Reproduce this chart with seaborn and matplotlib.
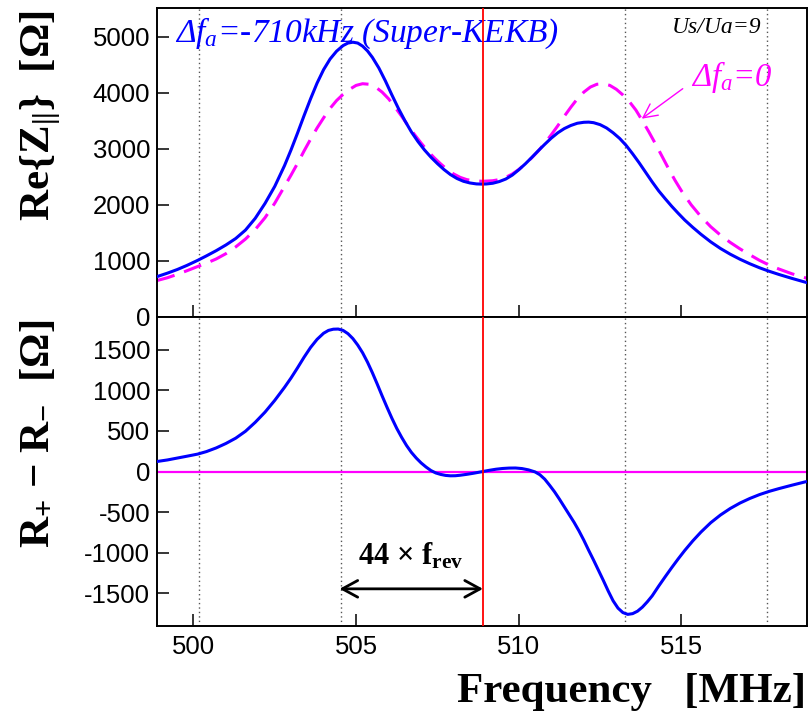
import matplotlib
matplotlib.use("Agg")
import matplotlib.pyplot as plt
import seaborn as sns
import pandas as pd

# ---- data -----------------------------------------------------------------
# Re{Z||} for detuning -710 kHz (Super-KEKB)
freq_det = [498.88, 499.2, 499.5, 499.8, 500.13, 500.4, 500.7, 501.0, 501.3, 501.6,
            501.9, 502.2, 502.5, 502.8, 503.0, 503.2, 503.4, 503.6, 503.8, 504.0,
            504.2, 504.4, 504.6, 504.75, 504.9, 505.05, 505.2, 505.35, 505.5, 505.7,
            505.9, 506.1, 506.3, 506.5, 506.7, 506.9, 507.1, 507.3, 507.5, 507.7,
            507.9, 508.1, 508.3, 508.5, 508.7, 508.85, 509.0, 509.2, 509.4, 509.6,
            509.8, 510.0, 510.2, 510.4, 510.6, 510.8, 511.0, 511.2, 511.4, 511.6,
            511.8, 512.0, 512.15, 512.3, 512.5, 512.7, 512.9, 513.1, 513.3, 513.5,
            513.7, 513.9, 514.1, 514.3, 514.5, 514.7, 514.9, 515.1, 515.35, 515.6,
            515.9, 516.2, 516.5, 516.8, 517.1, 517.4, 517.7, 518.0, 518.4, 518.86]
rez_det = [720, 782, 846, 920, 1010, 1090, 1183, 1285, 1400, 1550,
           1760, 2025, 2330, 2700, 2980, 3280, 3590, 3890, 4170, 4410,
           4600, 4740, 4840, 4885, 4900, 4885, 4830, 4745, 4630, 4440,
           4210, 3960, 3720, 3500, 3300, 3130, 2980, 2850, 2735, 2630,
           2540, 2470, 2420, 2390, 2373, 2370, 2372, 2385, 2415, 2460,
           2530, 2625, 2730, 2845, 2965, 3080, 3190, 3285, 3360, 3415,
           3455, 3472, 3475, 3465, 3430, 3370, 3285, 3185, 3060, 2910,
           2750, 2580, 2410, 2250, 2110, 1975, 1850, 1730, 1598, 1475,
           1340, 1222, 1120, 1030, 950, 878, 815, 758, 688, 612]

# Re{Z||} for zero detuning
freq_zero = [498.88, 499.2, 499.5, 499.8, 500.13, 500.4, 500.7, 501.0, 501.3, 501.6,
             501.9, 502.2, 502.5, 502.8, 503.0, 503.2, 503.4, 503.6, 503.8, 504.0,
             504.2, 504.4, 504.6, 504.8, 505.0, 505.2, 505.4, 505.6, 505.8, 506.0,
             506.2, 506.4, 506.6, 506.8, 507.0, 507.2, 507.4, 507.6, 507.8, 508.0,
             508.2, 508.4, 508.6, 508.9, 509.2, 509.4, 509.6, 509.8, 510.0, 510.2,
             510.4, 510.6, 510.8, 511.0, 511.2, 511.4, 511.6, 511.8, 512.0, 512.2,
             512.4, 512.6, 512.8, 513.0, 513.2, 513.4, 513.6, 513.8, 514.0, 514.2,
             514.4, 514.6, 514.8, 515.0, 515.3, 515.6, 515.9, 516.2, 516.5, 516.8,
             517.1, 517.4, 517.7, 518.0, 518.4, 518.86]
rez_zero = [650, 700, 760, 825, 900, 960, 1035, 1130, 1250, 1390,
            1560, 1770, 2030, 2330, 2530, 2740, 2960, 3170, 3370, 3550,
            3720, 3860, 3970, 4060, 4130, 4160, 4150, 4100, 4010, 3890,
            3740, 3580, 3410, 3250, 3100, 2960, 2840, 2730, 2630, 2550,
            2490, 2450, 2430, 2420, 2430, 2450, 2490, 2550, 2630, 2730,
            2840, 2960, 3100, 3250, 3410, 3580, 3740, 3890, 4010, 4100,
            4150, 4160, 4130, 4060, 3960, 3840, 3690, 3500, 3300, 3090,
            2870, 2650, 2440, 2250, 2000, 1790, 1610, 1460, 1330, 1215,
            1110, 1010, 925, 855, 770, 690]

# R+ - R- for detuning -710 kHz
freq_diff = [498.88, 499.2, 499.5, 499.8, 500.13, 500.4, 500.7, 501.0, 501.3, 501.6,
             501.9, 502.2, 502.5, 502.8, 503.0, 503.2, 503.4, 503.6, 503.8, 504.0,
             504.15, 504.3, 504.45, 504.6, 504.75, 504.9, 505.05, 505.2, 505.35, 505.5,
             505.65, 505.8, 505.95, 506.1, 506.25, 506.4, 506.55, 506.7, 506.85, 507.0,
             507.15, 507.3, 507.45, 507.6, 507.75, 507.9, 508.05, 508.2, 508.4, 508.6,
             508.9, 509.1, 509.3, 509.5, 509.7, 509.9, 510.1, 510.3, 510.5, 510.65,
             510.8, 510.95, 511.1, 511.25, 511.4, 511.55, 511.7, 511.85, 512.0, 512.15,
             512.3, 512.45, 512.6, 512.75, 512.9, 513.05, 513.2, 513.35, 513.5, 513.65,
             513.8, 513.95, 514.1, 514.3, 514.5, 514.7, 514.9, 515.1, 515.35, 515.6,
             515.9, 516.2, 516.5, 516.8, 517.1, 517.4, 517.7, 518.0, 518.4, 518.83]
rdiff = [123, 142, 165, 188, 214, 245, 290, 345, 410, 495,
         605, 730, 875, 1035, 1150, 1275, 1405, 1525, 1625, 1700,
         1735, 1750, 1752, 1735, 1695, 1635, 1555, 1460, 1345, 1215,
         1075, 930, 790, 655, 530, 420, 320, 235, 165, 105,
         55, 12, -18, -36, -48, -53, -52, -46, -35, -22,
         0, 15, 28, 37, 42, 43, 36, 20, -5, -40,
         -95, -170, -250, -340, -435, -530, -625, -730, -845, -970,
         -1090, -1215, -1340, -1470, -1590, -1680, -1735, -1757, -1748, -1718,
         -1668, -1603, -1530, -1410, -1295, -1183, -1075, -972, -853, -745,
         -630, -535, -455, -388, -332, -284, -244, -210, -168, -125]

# RF frequency and its +-44 f_rev neighbours
f_rf = 508.9
f_sidebands = [500.16, 504.53, 513.27, 517.64]

x_ticks = [500, 505, 510, 515]
top_yticks = [0, 1000, 2000, 3000, 4000, 5000]
bot_yticks = [-1500, -1000, -500, 0, 500, 1000, 1500]

# ---- style ----------------------------------------------------------------
sns.set_theme(style="ticks")
plt.rcParams["font.family"] = ["Liberation Sans", "DejaVu Sans"]
plt.rcParams["text.color"] = "black"
plt.rcParams["axes.labelcolor"] = "black"
plt.rcParams["axes.unicode_minus"] = False
plt.rcParams["mathtext.fontset"] = "custom"
plt.rcParams["mathtext.rm"] = "Liberation Serif"
plt.rcParams["mathtext.it"] = "Liberation Serif:italic"
plt.rcParams["mathtext.bf"] = "Liberation Serif:bold"

BLUE = "#0000ff"
MAGENTA = "#ff00ff"
SERIF = ["Liberation Serif", "DejaVu Serif"]

W, H = 808, 712
fig = plt.figure(figsize=(W / 100, H / 100), dpi=100)
L, R = 157 / W, 807 / W
ax_top = fig.add_axes([L, 1 - 317 / H, R - L, (317 - 8) / H])
ax_bot = fig.add_axes([L, 1 - 626 / H, R - L, (626 - 317) / H])

xlim = (498.88, 518.86)

for ax in (ax_top, ax_bot):
    ax.set_xlim(*xlim)
    ax.set_xticks(x_ticks)
    ax.tick_params(direction="in", length=8.6, width=1.1, labelsize=18.5,
                   colors="black", top=False, right=False)
    ax.tick_params(axis="y", pad=5)
    ax.tick_params(axis="x", pad=6.5)
    for sp in ax.spines.values():
        sp.set_visible(True)
        sp.set_linewidth(1.4)
        sp.set_color("black")
    for fs in f_sidebands:
        ax.axvline(fs, color="#555555", lw=1.0, dashes=(1, 2.2), zorder=1)
    ax.axvline(f_rf, color="#ff0000", lw=1.3, zorder=4)

# ---- top panel: Re{Z||} ---------------------------------------------------
df_zero = pd.DataFrame({"f": freq_zero, "z": rez_zero})
df_det = pd.DataFrame({"f": freq_det, "z": rez_det})
sns.lineplot(data=df_zero, x="f", y="z", ax=ax_top, color=MAGENTA, lw=2.2,
             estimator=None, zorder=2)
ax_top.lines[-1].set_dashes([6, 3.3])
sns.lineplot(data=df_det, x="f", y="z", ax=ax_top, color=BLUE, lw=2.2,
             estimator=None, zorder=3)
ax_top.set_ylim(0, 5510)
ax_top.set_yticks(top_yticks)
ax_top.set_yticklabels([str(v) for v in top_yticks])
ax_top.tick_params(axis="x", labelbottom=False)
ax_top.set_xlabel("")
ax_top.set_ylabel("")

ax_top.text(499.44, 4916, r"Δ$f_{a}$=-710kHz (Super-KEKB)", color=BLUE,
            fontsize=24, fontstyle="italic", family=SERIF, va="baseline", ha="left")
ax_top.text(514.7, 5070, "Us/Ua=9", color="black", fontsize=17,
            fontstyle="italic", family=SERIF, va="baseline", ha="left")
ax_top.text(515.28, 4125, r"Δ$f_{a}$=0", color=MAGENTA, fontsize=23.5,
            fontstyle="italic", family=SERIF, va="baseline", ha="left")
ax_top.annotate("", xy=(513.78, 3536), xytext=(515.04, 4071),
                arrowprops=dict(arrowstyle="->,head_length=0.5,head_width=0.25",
                                color=MAGENTA, lw=1.0, shrinkA=0, shrinkB=0,
                                mutation_scale=20))

# ---- bottom panel: R+ - R- -------------------------------------------------
df_diff = pd.DataFrame({"f": freq_diff, "d": rdiff})
ax_bot.axhline(0, color=MAGENTA, lw=1.6, zorder=2)
sns.lineplot(data=df_diff, x="f", y="d", ax=ax_bot, color=BLUE, lw=2.2,
             estimator=None, zorder=3)
ax_bot.set_ylim(-1900, 1900)
ax_bot.set_yticks(bot_yticks)
ax_bot.set_yticklabels([str(v) for v in bot_yticks])
ax_bot.set_xticklabels([str(v) for v in x_ticks])
ax_bot.set_xlabel("")
ax_bot.set_ylabel("")

ax_bot.annotate("", xy=(f_sidebands[1] - 0.04, -1443), xytext=(f_rf, -1443),
                arrowprops=dict(arrowstyle="<->,head_length=0.55,head_width=0.3",
                                color="black", lw=2.0, shrinkA=0, shrinkB=0,
                                mutation_scale=20))
ax_bot.text(505.05, -1148, r"44 × f$_\mathbf{rev}$", color="black", fontsize=22,
            fontweight="bold", family=SERIF, va="baseline", ha="left")

# ---- axis titles ------------------------------------------------------------
fig.text(41 / W, 1 - 10 / H, r"Re{Z$_\mathbf{||}$}  [Ω]", rotation=90,
         ha="center", va="top", fontsize=31, fontweight="bold", family=SERIF,
         color="black")
fig.text(39 / W, 1 - 320 / H, r"R$_\mathbf{+}$ − R$_\mathbf{-}$  [Ω]", rotation=90,
         ha="center", va="top", fontsize=31, fontweight="bold", family=SERIF,
         color="black")
fig.text(806 / W, 1 - 702 / H, "Frequency   [MHz]", ha="right", va="baseline",
         fontsize=31, fontweight="bold", family=SERIF, color="black")

fig.savefig("out.png", dpi=100, facecolor="white")
